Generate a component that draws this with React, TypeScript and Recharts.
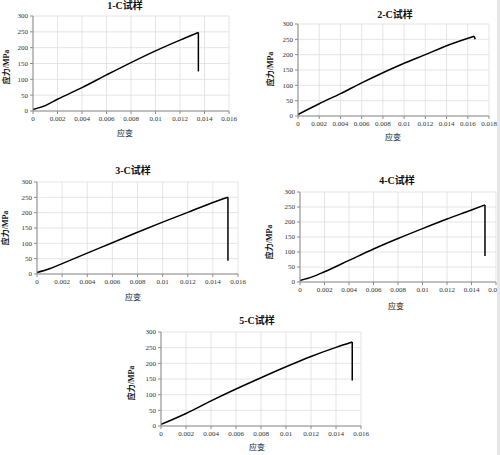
import React from "react";
import { CartesianGrid, Line, LineChart, XAxis, YAxis } from "recharts";

// stress-strain readings per specimen (strain, stress MPa); last two points = fracture drop
const strain1 = [0, 0.001, 0.002, 0.004, 0.006, 0.008, 0.01, 0.012, 0.0135, 0.0135];
const stress1 = [5, 17, 37, 74, 114, 153, 190, 224, 248, 125];

const strain2 = [0, 0.002, 0.004, 0.006, 0.008, 0.01, 0.012, 0.014, 0.0166, 0.0167];
const stress2 = [5, 40, 73, 108, 141, 172, 200, 229, 260, 250];

const strain3 = [0, 0.001, 0.002, 0.004, 0.006, 0.008, 0.01, 0.012, 0.014, 0.0152, 0.0152];
const stress3 = [5, 17, 34, 68, 102, 136, 169, 201, 233, 250, 43];

const strain4 = [0, 0.001, 0.002, 0.004, 0.006, 0.008, 0.01, 0.012, 0.014, 0.0151, 0.0151];
const stress4 = [5, 17, 34, 72, 110, 145, 178, 210, 240, 257, 87];

const strain5 = [0, 0.002, 0.004, 0.006, 0.008, 0.01, 0.012, 0.014, 0.0153, 0.0153];
const stress5 = [5, 40, 80, 118, 154, 189, 222, 251, 268, 145];

const ticks16 = [0, 0.002, 0.004, 0.006, 0.008, 0.01, 0.012, 0.014, 0.016];
const ticks18 = [0, 0.002, 0.004, 0.006, 0.008, 0.01, 0.012, 0.014, 0.016, 0.018];
const stressTicks = [0, 50, 100, 150, 200, 250, 300];

const titles = ["1-C试样", "2-C试样", "3-C试样", "4-C试样", "5-C试样"];
const xTitle = "应变";
const yTitle = "应力/MPa";

const FONT = "'Liberation Serif', 'Times New Roman', 'Noto Sans CJK SC', serif";

type Row = { x: number; y?: number; drop?: number };

// curve uses all but the last point; the drop line uses the last two
const toRows = (xs: number[], ys: number[]): Row[] =>
  xs.map((x, i) => ({
    x,
    y: i < xs.length - 1 ? ys[i] : undefined,
    drop: i >= xs.length - 2 ? ys[i] : undefined
  }));

type Panel = {
  title: string;
  rows: Row[];
  xTicks: number[];
  plot: [number, number, number, number]; // left, top, right, bottom
  titlePos: [number, number];
  xTitlePos: [number, number];
  yTitlePos: [number, number];
};

const panels: Panel[] = [
  {
    title: titles[0],
    rows: toRows(strain1, stress1),
    xTicks: ticks16,
    plot: [33, 16, 229, 111],
    titlePos: [125, 6],
    xTitlePos: [125, 134],
    yTitlePos: [7, 67]
  },
  {
    title: titles[1],
    rows: toRows(strain2, stress2),
    xTicks: ticks18,
    plot: [298, 24, 489, 116],
    titlePos: [395, 15],
    xTitlePos: [393, 138],
    yTitlePos: [271, 69]
  },
  {
    title: titles[2],
    rows: toRows(strain3, stress3),
    xTicks: ticks16,
    plot: [37, 182, 238, 274],
    titlePos: [133, 171],
    xTitlePos: [133, 298],
    yTitlePos: [6, 228]
  },
  {
    title: titles[3],
    rows: toRows(strain4, stress4),
    xTicks: ticks16,
    plot: [300, 192, 496, 282],
    titlePos: [397, 181],
    xTitlePos: [396, 307],
    yTitlePos: [270, 242]
  },
  {
    title: titles[4],
    rows: toRows(strain5, stress5),
    xTicks: ticks16,
    plot: [161, 332, 361, 426],
    titlePos: [257, 321],
    xTitlePos: [257, 448],
    yTitlePos: [132, 383]
  }
];

const PAD_L = 30;
const PAD_T = 8;
const PAD_R = 14;
const PAD_B = 20;
const Y_W = 26;
const X_H = 14;

function StressPanel({ p }: { p: Panel }) {
  const [l, t, r, b] = p.plot;
  const xMax = p.xTicks[p.xTicks.length - 1];
  const tickStyle = { fontSize: 7, fill: "#333", fontFamily: FONT };
  const center: React.CSSProperties = {
    position: "absolute",
    transform: "translate(-50%, -50%)",
    whiteSpace: "nowrap",
    color: "#111",
    fontFamily: FONT,
    lineHeight: 1
  };
  return (
    <>
      <div style={{ position: "absolute", left: l - PAD_L, top: t - PAD_T }}>
        <LineChart
          width={r - l + PAD_L + PAD_R}
          height={b - t + PAD_T + PAD_B}
          data={p.rows}
          margin={{ top: PAD_T, left: PAD_L - Y_W, right: PAD_R, bottom: PAD_B - X_H }}
        >
          <CartesianGrid stroke="#dedede" strokeWidth={0.8} />
          <XAxis
            dataKey="x"
            type="number"
            domain={[0, xMax]}
            ticks={p.xTicks}
            height={X_H}
            tickSize={3}
            tick={tickStyle}
            stroke="#8c8c8c"
            interval={0}
          />
          <YAxis
            type="number"
            domain={[0, 300]}
            ticks={stressTicks}
            width={Y_W}
            tickSize={3}
            tick={tickStyle}
            stroke="#8c8c8c"
            interval={0}
          />
          <Line
            type="monotone"
            dataKey="y"
            stroke="#000"
            strokeWidth={1.5}
            dot={false}
            isAnimationActive={false}
          />
          <Line
            type="linear"
            dataKey="drop"
            stroke="#000"
            strokeWidth={1.5}
            dot={false}
            isAnimationActive={false}
          />
        </LineChart>
      </div>
      <div style={{ ...center, left: p.titlePos[0], top: p.titlePos[1], fontSize: 10, fontWeight: "bold" }}>
        {p.title}
      </div>
      <div style={{ ...center, left: p.xTitlePos[0], top: p.xTitlePos[1], fontSize: 8 }}>{xTitle}</div>
      <div
        style={{
          ...center,
          left: p.yTitlePos[0],
          top: p.yTitlePos[1],
          fontSize: 8,
          fontWeight: "bold",
          transform: "translate(-50%, -50%) rotate(-90deg)"
        }}
      >
        {yTitle}
      </div>
    </>
  );
}

export default function App() {
  return (
    <div
      style={{
        position: "absolute",
        left: 0,
        top: 0,
        width: 500,
        height: 455,
        background: "#fff",
        overflow: "hidden",
        fontFamily: FONT
      }}
    >
      {panels.map((p) => (
        <StressPanel key={p.title} p={p} />
      ))}
      <div style={{ position: "absolute", left: 497, top: 0, width: 3, height: 455, background: "#e6e6e6" }} />
    </div>
  );
}
